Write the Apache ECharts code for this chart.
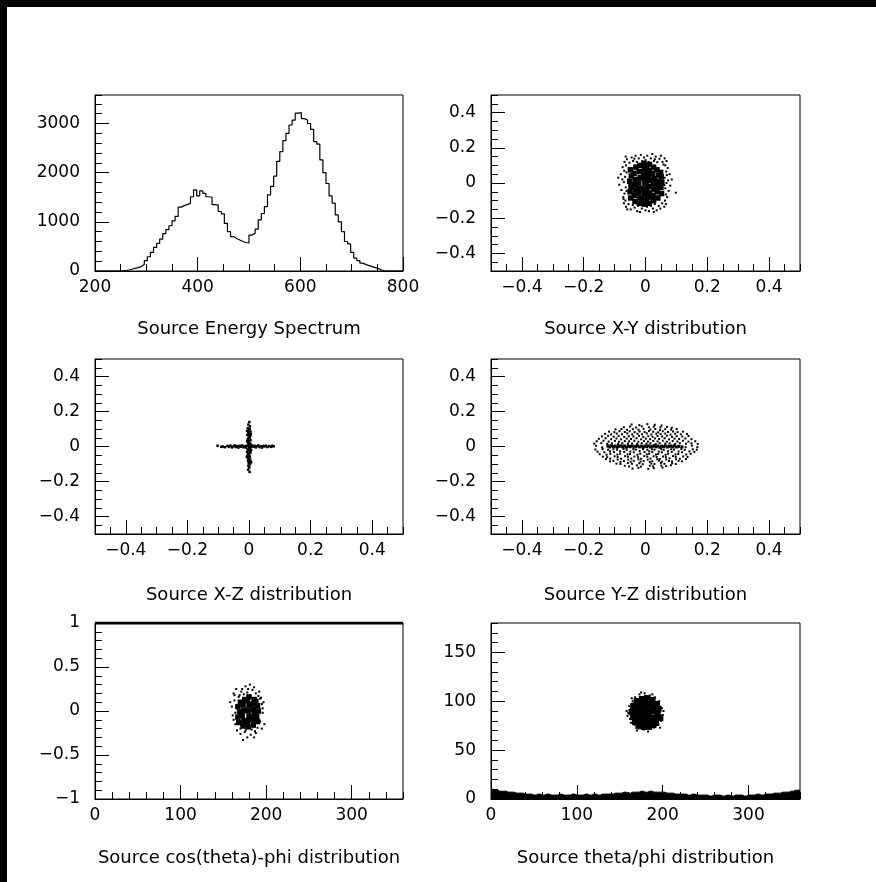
<!DOCTYPE html>
<html><head><meta charset="utf-8">
<script src="https://cdn.jsdelivr.net/npm/echarts@6.0.0/dist/echarts.min.js"></script>
<style>html,body{margin:0;padding:0;background:#fff}#c{width:876px;height:882px}</style>
</head><body><div id="c"></div>
<script>
// ---------------- DATA ----------------
const panelTitles = ['Source Energy Spectrum', 'Source X-Y distribution', 'Source X-Z distribution',
  'Source Y-Z distribution', 'Source cos(theta)-phi distribution', 'Source theta/phi distribution'];

// axis ranges and tick labels
const xRanges = [[200, 800], [-0.5, 0.5], [-0.5, 0.5], [-0.5, 0.5], [0, 360], [0, 360]];
const yRanges = [[0, 3580], [-0.5, 0.5], [-0.5, 0.5], [-0.5, 0.5], [-1, 1], [0, 180]];
const xTickLabels = [[200, 400, 600, 800], [-0.4, -0.2, 0, 0.2, 0.4], [-0.4, -0.2, 0, 0.2, 0.4],
  [-0.4, -0.2, 0, 0.2, 0.4], [0, 100, 200, 300], [0, 100, 200, 300]];
const yTickLabels = [[0, 1000, 2000, 3000], [-0.4, -0.2, 0, 0.2, 0.4], [-0.4, -0.2, 0, 0.2, 0.4],
  [-0.4, -0.2, 0, 0.2, 0.4], [-1, -0.5, 0, 0.5, 1], [0, 50, 100, 150]];
const xMinorStep = [50, 0.05, 0.05, 0.05, 20, 20];
const yMinorStep = [200, 0.05, 0.05, 0.05, 0.1, 10];

// Panel 1: energy histogram (bin left edges, counts)
const energyEdges = [200,206,212,218,224,230,236,242,248,254,260,266,272,278,284,290,296,302,308,314,320,326,332,338,344,350,356,362,368,374,380,386,392,398,404,410,416,422,428,434,440,446,452,458,464,470,476,482,488,494,500,506,512,518,524,530,536,542,548,554,560,566,572,578,584,590,596,602,608,614,620,626,632,638,644,650,656,662,668,674,680,686,692,698,704,710,716,722,728,734,740,746,752,758,764,770,776,782,788,794,800];
const energyCounts = [0,0,0,0,0,0,0,0,5,10,20,35,55,70,90,130,210,290,380,480,560,650,760,840,920,1020,1110,1300,1330,1350,1380,1510,1650,1530,1630,1580,1510,1500,1350,1340,1210,1160,970,800,700,660,630,600,580,570,730,770,850,1040,1170,1310,1550,1720,1930,2230,2430,2650,2800,2970,3070,3210,3220,3100,3070,3000,2880,2630,2580,2260,2000,1780,1530,1380,1140,1000,800,600,550,380,260,210,160,130,110,90,70,50,20,5,0,0,0,0,0,0,0];

// Panel 2: X-Y
const xyCore = [[-0.048,-0.085],[-0.05,-0.05],[-0.047,-0.02],[-0.051,0.01],[-0.046,0.04],[-0.049,0.075],
  [-0.034,-0.105],[-0.036,-0.07],[-0.032,-0.04],[-0.035,-0.01],[-0.033,0.02],[-0.037,0.055],[-0.031,0.09],
  [-0.02,-0.115],[-0.018,-0.085],[-0.021,-0.055],[-0.019,-0.03],[-0.022,0.0],[-0.017,0.03],[-0.02,0.065],[-0.018,0.1],
  [-0.004,-0.12],[-0.006,-0.09],[-0.003,-0.06],[-0.005,-0.035],[-0.002,-0.005],[-0.004,0.025],[-0.006,0.05],[-0.003,0.08],[-0.005,0.11],
  [0.003,-0.1],[0.004,-0.045],[0.002,0.01],[0.004,0.065],[0.003,0.095],
  [0.012,-0.115],[0.01,-0.08],[0.013,-0.055],[0.011,-0.02],[0.014,0.015],[0.01,0.04],[0.012,0.07],[0.013,0.105],
  [0.026,-0.1],[0.024,-0.07],[0.027,-0.035],[0.025,-0.005],[0.028,0.025],[0.023,0.055],[0.026,0.09],
  [0.04,-0.085],[0.038,-0.05],[0.041,-0.02],[0.039,0.01],[0.042,0.045],[0.037,0.075],
  [0.052,-0.06],[0.05,-0.025],[0.053,0.005],[0.051,0.035],[0.049,0.06]];
const xyHalo = [[-0.068,0.12],[-0.06,0.135],[-0.052,0.115],[-0.045,0.145],[-0.04,0.125],[-0.032,0.155],[-0.028,0.12],[-0.022,0.14],[-0.015,0.16],[-0.01,0.125],[-0.005,0.145],[0.0,0.13],[0.006,0.155],[0.01,0.12],[0.017,0.14],[0.022,0.165],[0.027,0.125],[0.033,0.15],[0.038,0.118],[0.045,0.138],[0.05,0.155],[0.055,0.12],[0.062,0.14],[0.068,0.125],[-0.064,0.15],[0.03,0.135],[-0.036,0.138],[0.058,0.105],
  [-0.07,-0.115],[-0.063,-0.135],[-0.055,-0.12],[-0.048,-0.15],[-0.041,-0.125],[-0.035,-0.14],[-0.027,-0.16],[-0.024,-0.13],[-0.012,-0.145],[-0.008,-0.125],[0.0,-0.155],[0.005,-0.135],[0.011,-0.16],[0.018,-0.13],[0.024,-0.145],[0.03,-0.12],[0.036,-0.155],[0.043,-0.13],[0.048,-0.145],[0.054,-0.115],[0.061,-0.135],[0.066,-0.12],[-0.059,-0.15],[0.027,-0.165],[-0.018,-0.165],
  [-0.065,-0.1],[-0.072,-0.08],[-0.068,-0.06],[-0.078,-0.04],[-0.064,-0.025],[-0.085,-0.01],[-0.07,0.005],[-0.075,0.02],[-0.066,0.035],[-0.08,0.05],[-0.069,0.07],[-0.074,0.09],[-0.063,0.1],[-0.088,0.03],[-0.062,0.06],[-0.071,-0.09],[-0.061,-0.045],
  [0.063,-0.1],[0.07,-0.08],[0.066,-0.065],[0.075,-0.045],[0.064,-0.03],[0.08,-0.015],[0.068,0.0],[0.073,0.015],[0.062,0.03],[0.078,0.05],[0.067,0.065],[0.072,0.085],[0.064,0.1],[0.098,-0.055],[0.085,0.02],[0.061,-0.012],[0.069,0.045]];

// Panel 3: X-Z cross
const xzPoints = [[0.001,0.14],[-0.002,0.125],[0.003,0.115],[-0.004,0.105],[0.002,0.1],[-0.001,0.092],[0.005,0.085],[-0.003,0.08],[0.001,0.072],[-0.005,0.066],[0.004,0.06],[-0.001,0.054],[0.002,0.048],[-0.004,0.042],[0.005,0.036],[0.0,0.03],[-0.003,0.024],[0.003,0.018],[-0.002,0.012],[0.004,0.006],[-0.005,0.002],[0.001,-0.004],[0.003,-0.01],[-0.004,-0.016],[0.002,-0.022],[-0.001,-0.028],[0.005,-0.034],[-0.003,-0.04],[0.001,-0.046],[-0.005,-0.052],[0.003,-0.058],[0.0,-0.064],[-0.002,-0.07],[0.004,-0.076],[-0.003,-0.082],[0.002,-0.088],[-0.001,-0.095],[0.003,-0.102],[-0.002,-0.11],[0.001,-0.12],[-0.003,-0.132],[0.002,-0.145],
  [0.006,0.07],[-0.006,0.03],[0.007,-0.02],[-0.007,-0.06],[0.006,0.01],[-0.006,0.09],[0.007,-0.09],[-0.006,-0.03],
  [-0.102,0.004],[-0.085,0.0],[-0.078,-0.004],[-0.07,0.003],[-0.065,-0.002],[-0.06,0.005],[-0.055,-0.005],[-0.05,0.001],[-0.046,0.006],[-0.042,-0.003],[-0.038,0.002],[-0.034,-0.006],[-0.03,0.004],[-0.026,-0.001],[-0.022,0.006],[-0.018,-0.004],[-0.014,0.002],[-0.01,-0.006],[-0.006,0.004],[0.006,-0.003],[0.01,0.005],[0.014,-0.001],[0.018,0.004],[0.022,-0.005],[0.026,0.002],[0.03,0.006],[0.034,-0.003],[0.038,0.001],[0.042,-0.006],[0.046,0.003],[0.05,0.0],[0.055,0.005],[0.06,-0.003],[0.066,0.002],[0.072,-0.002],[0.08,0.001],[-0.09,-0.002],[0.076,0.004]];

// Panel 4: Y-Z
const yzCloud = [[-0.045,0.126],[-0.02,0.122],[0.006,0.128],[0.03,0.124],[0.052,0.12],
  [-0.07,0.11],[-0.05,0.114],[-0.031,0.108],[-0.012,0.115],[0.011,0.11],[0.027,0.113],[0.048,0.109],[0.07,0.112],[0.085,0.107],
  [-0.097,0.098],[-0.078,0.1],[-0.06,0.095],[-0.041,0.099],[-0.023,0.096],[-0.006,0.101],[0.016,0.097],[0.032,0.1],[0.047,0.094],[0.064,0.099],[0.083,0.096],[0.101,0.1],
  [-0.118,0.085],[-0.101,0.082],[-0.084,0.088],[-0.067,0.083],[-0.051,0.087],[-0.035,0.082],[-0.019,0.086],[-0.003,0.083],[0.011,0.088],[0.025,0.084],[0.041,0.081],[0.056,0.087],[0.073,0.083],[0.089,0.086],[0.104,0.082],[0.121,0.085],
  [-0.131,0.072],[-0.111,0.069],[-0.093,0.074],[-0.076,0.07],[-0.059,0.075],[-0.043,0.069],[-0.026,0.073],[-0.011,0.07],[0.004,0.075],[0.019,0.069],[0.035,0.073],[0.049,0.071],[0.064,0.074],[0.081,0.068],[0.096,0.073],[0.114,0.07],[0.134,0.072],
  [-0.141,0.058],[-0.121,0.061],[-0.103,0.056],[-0.087,0.06],[-0.069,0.055],[-0.054,0.059],[-0.039,0.057],[-0.021,0.061],[-0.007,0.055],[0.009,0.059],[0.023,0.056],[0.039,0.06],[0.054,0.057],[0.069,0.061],[0.086,0.055],[0.101,0.059],[0.119,0.057],[0.139,0.06],
  [-0.151,0.044],[-0.129,0.047],[-0.111,0.042],[-0.094,0.046],[-0.079,0.041],[-0.061,0.045],[-0.047,0.043],[-0.029,0.047],[-0.014,0.041],[0.001,0.045],[0.015,0.042],[0.031,0.046],[0.044,0.043],[0.062,0.047],[0.076,0.041],[0.094,0.045],[0.109,0.043],[0.129,0.046],[0.149,0.042],
  [-0.158,0.03],[-0.136,0.033],[-0.119,0.028],[-0.099,0.032],[-0.086,0.027],[-0.067,0.031],[-0.053,0.029],[-0.036,0.033],[-0.023,0.027],[-0.005,0.031],[0.008,0.028],[0.025,0.032],[0.039,0.029],[0.056,0.033],[0.069,0.027],[0.088,0.031],[0.103,0.029],[0.121,0.033],[0.139,0.028],[0.161,0.03],
  [-0.166,0.016],[-0.143,0.019],[-0.124,0.015],[-0.109,0.018],[-0.089,0.014],[-0.075,0.019],[-0.057,0.016],[-0.043,0.018],[-0.027,0.015],[-0.012,0.019],[0.003,0.016],[0.016,0.018],[0.033,0.014],[0.046,0.019],[0.064,0.016],[0.078,0.018],[0.096,0.015],[0.111,0.019],[0.131,0.016],[0.149,0.018],[0.169,0.015],
  [-0.16,0.004],[-0.14,-0.005],[-0.12,0.006],[0.13,-0.004],[0.15,0.005],[0.168,-0.003],
  [-0.162,-0.017],[-0.139,-0.015],[-0.121,-0.019],[-0.104,-0.016],[-0.092,-0.018],[-0.071,-0.014],[-0.061,-0.019],[-0.039,-0.016],[-0.031,-0.018],[-0.008,-0.015],[0.006,-0.019],[0.021,-0.016],[0.029,-0.018],[0.051,-0.015],[0.059,-0.019],[0.083,-0.016],[0.092,-0.018],[0.116,-0.015],[0.127,-0.019],[0.153,-0.016],[0.166,-0.018],
  [-0.155,-0.03],[-0.133,-0.033],[-0.115,-0.028],[-0.102,-0.032],[-0.082,-0.027],[-0.069,-0.031],[-0.049,-0.029],[-0.038,-0.033],[-0.019,-0.027],[-0.003,-0.031],[0.012,-0.028],[0.022,-0.032],[0.043,-0.029],[0.053,-0.033],[0.073,-0.027],[0.085,-0.031],[0.107,-0.029],[0.118,-0.033],[0.142,-0.028],[0.158,-0.031],
  [-0.148,-0.044],[-0.126,-0.047],[-0.114,-0.042],[-0.091,-0.046],[-0.082,-0.041],[-0.058,-0.045],[-0.05,-0.043],[-0.026,-0.047],[-0.017,-0.041],[0.004,-0.045],[0.012,-0.042],[0.034,-0.046],[0.041,-0.043],[0.065,-0.047],[0.073,-0.041],[0.097,-0.045],[0.106,-0.043],[0.132,-0.046],[0.146,-0.042],
  [-0.138,-0.058],[-0.124,-0.061],[-0.1,-0.056],[-0.09,-0.06],[-0.066,-0.055],[-0.057,-0.059],[-0.036,-0.057],[-0.024,-0.061],[-0.004,-0.055],[0.006,-0.059],[0.026,-0.056],[0.036,-0.06],[0.057,-0.057],[0.066,-0.061],[0.089,-0.055],[0.098,-0.059],[0.122,-0.057],[0.136,-0.06],
  [-0.128,-0.072],[-0.114,-0.069],[-0.09,-0.074],[-0.079,-0.07],[-0.056,-0.075],[-0.046,-0.069],[-0.023,-0.073],[-0.014,-0.07],[0.007,-0.075],[0.016,-0.069],[0.038,-0.073],[0.046,-0.071],[0.067,-0.074],[0.078,-0.068],[0.099,-0.073],[0.111,-0.07],[0.131,-0.072],
  [-0.115,-0.085],[-0.104,-0.082],[-0.081,-0.088],[-0.07,-0.083],[-0.048,-0.087],[-0.038,-0.082],[-0.016,-0.086],[-0.006,-0.083],[0.014,-0.088],[0.022,-0.084],[0.044,-0.081],[0.053,-0.087],[0.076,-0.083],[0.086,-0.086],[0.107,-0.082],[0.118,-0.085],
  [-0.094,-0.098],[-0.081,-0.1],[-0.057,-0.095],[-0.044,-0.099],[-0.02,-0.096],[-0.009,-0.101],[0.019,-0.097],[0.029,-0.1],[0.05,-0.094],[0.061,-0.099],[0.086,-0.096],[0.098,-0.1],
  [-0.067,-0.11],[-0.053,-0.114],[-0.028,-0.108],[-0.015,-0.115],[0.014,-0.11],[0.024,-0.113],[0.051,-0.109],[0.067,-0.112],[0.082,-0.107],
  [-0.042,-0.126],[-0.023,-0.122],[0.009,-0.128],[0.027,-0.124],[0.055,-0.12]];
const yzLine = [[-0.122,0.002],[-0.116,-0.003],[-0.11,0.004],[-0.104,-0.001],[-0.098,0.003],[-0.092,-0.004],[-0.086,0.001],[-0.08,0.004],[-0.074,-0.002],[-0.068,0.003],[-0.062,-0.004],[-0.056,0.002],[-0.05,-0.001],[-0.044,0.004],[-0.038,-0.003],[-0.032,0.001],[-0.026,0.004],[-0.02,-0.002],[-0.014,0.003],[-0.008,-0.004],[-0.002,0.002],[0.004,-0.001],[0.01,0.004],[0.016,-0.003],[0.022,0.001],[0.028,0.004],[0.034,-0.002],[0.04,0.003],[0.046,-0.004],[0.052,0.002],[0.058,-0.001],[0.064,0.004],[0.07,-0.003],[0.076,0.001],[0.082,0.003],[0.088,-0.002],[0.094,0.004],[0.1,-0.003],[0.108,0.001],[0.118,-0.002]];

// Panel 5: cos(theta) vs phi
const csCore = [[168,-0.13],[167,-0.07],[169,-0.01],[167,0.05],[170,0.1],
  [173,-0.17],[174,-0.11],[172,-0.05],[174,0.01],[173,0.07],[175,0.13],
  [179,-0.18],[178,-0.12],[180,-0.06],[179,0.0],[180,0.06],[178,0.12],[180,0.16],
  [185,-0.16],[184,-0.1],[186,-0.04],[185,0.02],[184,0.08],[186,0.13],
  [190,-0.12],[189,-0.06],[191,0.0],[190,0.06],[188,0.11]];
const csHalo = [[162,0.2],[165,0.25],[171,0.22],[176,0.28],[181,0.3],[184,0.24],[188,0.2],[192,0.22],[186,0.27],[174,0.19],[178,0.21],[169,0.18],[160,0.05],[161,-0.05],[163,0.12],[164,-0.15],[158,0.1],[162,-0.1],[195,0.08],[196,-0.02],[194,0.15],[197,0.1],[193,-0.12],[198,-0.15],[195,-0.2],[166,-0.22],[170,-0.26],[175,-0.24],[178,-0.3],[182,-0.27],[187,-0.23],[190,-0.19],[173,-0.33],[183,-0.21],[168,0.16],[191,0.17],[179,0.25],[164,-0.02],[196,0.03],[163,0.18],[186,-0.3],[170,-0.2],[193,0.14],[172,0.25],[188,-0.25],[176,-0.22]];
const csTopPhi = [0, 360];
const csTopCos = [1, 1];

// Panel 6: theta vs phi
const tpCore = [[170,100],[176,102],[182,103],[188,101],[193,97],
  [166,95],[172,96],[178,97],[184,97],[190,95],[195,92],
  [164,89],[170,90],[176,91],[182,91],[188,90],[194,87],[197,83],
  [166,84],[172,85],[178,85],[184,85],[190,83],
  [168,79],[174,80],[180,79],[186,79],[192,78],
  [172,75],[178,74],[184,74],[189,76]];
const tpHalo = [[161,95],[160,88],[162,82],[158,90],[165,100],[168,104],[173,107],[179,108],[185,106],[191,104],[196,100],[199,93],[200,86],[198,80],[195,76],[190,73],[185,72],[178,71],[172,72],[167,76],[163,78],[159,85],[201,90],[175,109],[188,107],[164,103],[197,73],[170,70],[183,69]];
const bandPhi = [0,5,10,15,20,25,30,35,40,45,50,55,60,65,70,75,80,85,90,95,100,105,110,115,120,125,130,135,140,145,150,155,160,165,170,175,180,185,190,195,200,205,210,215,220,225,230,235,240,245,250,255,260,265,270,275,280,285,290,295,300,305,310,315,320,325,330,335,340,345,350,355,360];
const bandTheta = [10,9,8,8,7,7,6,6,5,5,4,5,4,5,4,4,5,4,4,5,4,4,5,4,5,4,5,5,5,6,6,7,6,7,7,8,7,8,7,7,7,6,6,5,5,5,4,5,4,4,4,3,4,4,3,4,3,4,4,3,4,4,5,4,5,5,6,6,7,7,8,9,9];

// ---------------- LAYOUT / STYLE ----------------
const FONT = 'DejaVu Sans';
const boxes = [[95,95,308,176],[491,95,309,176],[95,359,308,175],[491,359,309,175],[95,623,308,176],[491,623,309,176]];
const titleOffsets = [58, 58, 61, 61, 59, 59];

function fmt(v) { return v < 0 ? '\u2212' + String(-v) : String(v); }

const grid = [], xAxis = [], yAxis = [], series = [];
boxes.forEach((b, g) => {
  grid.push({left: b[0], top: b[1], width: b[2], height: b[3], show: true,
    borderColor: '#000', borderWidth: 1, backgroundColor: 'transparent', containLabel: false});
  const lbl = {show: true, formatter: fmt, color: '#000', fontSize: 17, fontFamily: FONT, hideOverlap: false};
  xAxis.push({gridIndex: g, type: 'value', position: 'bottom', min: xRanges[g][0], max: xRanges[g][1],
    axisLine: {show: true, onZero: false, lineStyle: {color: '#000', width: 1}},
    axisTick: {show: true, inside: true, length: 14, customValues: xTickLabels[g], lineStyle: {color: '#000', width: 1}},
    axisLabel: Object.assign({customValues: xTickLabels[g], margin: 8}, lbl),
    splitLine: {show: false}});
  xAxis.push({gridIndex: g, type: 'value', position: 'bottom', min: xRanges[g][0], max: xRanges[g][1], interval: xMinorStep[g],
    axisLine: {show: false, onZero: false},
    axisTick: {show: true, inside: true, length: 7, lineStyle: {color: '#000', width: 1}},
    axisLabel: {show: false}, splitLine: {show: false}});
  yAxis.push({gridIndex: g, type: 'value', position: 'left', min: yRanges[g][0], max: yRanges[g][1],
    axisLine: {show: true, onZero: false, lineStyle: {color: '#000', width: 1}},
    axisTick: {show: true, inside: true, length: 14, customValues: yTickLabels[g], lineStyle: {color: '#000', width: 1}},
    axisLabel: Object.assign({customValues: yTickLabels[g], margin: 15}, lbl),
    splitLine: {show: false}});
  yAxis.push({gridIndex: g, type: 'value', position: 'left', min: yRanges[g][0], max: yRanges[g][1], interval: yMinorStep[g],
    axisLine: {show: false, onZero: false},
    axisTick: {show: true, inside: true, length: 7, lineStyle: {color: '#000', width: 1}},
    axisLabel: {show: false}, splitLine: {show: false}});
});

function scat(g, data, size) {
  return {type: 'scatter', xAxisIndex: 2 * g, yAxisIndex: 2 * g, data: data, symbol: 'rect', symbolSize: size,
    itemStyle: {color: '#000', opacity: 1}, silent: true, animation: false, emphasis: {disabled: true}};
}

series.push({type: 'line', xAxisIndex: 0, yAxisIndex: 0, step: 'end', symbol: 'none', silent: true, animation: false,
  data: energyEdges.map((e, i) => [e, energyCounts[i]]), lineStyle: {color: '#000', width: 1.2}});
series.push(scat(1, xyCore, 5.5), scat(1, xyHalo, 2));
series.push(scat(2, xzPoints, 2.5));
series.push(scat(3, yzCloud, 2), scat(3, yzLine, 3));
series.push(scat(4, csCore, 5.5), scat(4, csHalo, 2));
series.push({type: 'line', xAxisIndex: 8, yAxisIndex: 8, symbol: 'none', silent: true, animation: false,
  data: csTopPhi.map((p, i) => [p, csTopCos[i]]), lineStyle: {color: '#000', width: 3}});
series.push(scat(5, tpCore, 6.5), scat(5, tpHalo, 2));
series.push({type: 'line', xAxisIndex: 10, yAxisIndex: 10, step: 'middle', symbol: 'none', silent: true, animation: false,
  data: bandPhi.map((p, i) => [p, bandTheta[i]]), lineStyle: {color: '#000', width: 1},
  areaStyle: {color: '#000', opacity: 1}});

const graphic = [
  {type: 'rect', shape: {x: 0, y: 0, width: 876, height: 7}, style: {fill: '#000'}, silent: true},
  {type: 'rect', shape: {x: 0, y: 0, width: 7, height: 882}, style: {fill: '#000'}, silent: true}
];
boxes.forEach((b, g) => {
  graphic.push({type: 'text', x: b[0] + b[2] / 2, y: b[1] + b[3] + titleOffsets[g], silent: true,
    style: {text: panelTitles[g], fill: '#000', fontSize: 18, fontFamily: FONT, align: 'center', verticalAlign: 'middle'}});
});

const chart = echarts.init(document.getElementById('c'), null, {renderer: 'canvas', width: 876, height: 882});
chart.setOption({backgroundColor: '#fff', animation: false, grid, xAxis, yAxis, series, graphic});
</script></body></html>
